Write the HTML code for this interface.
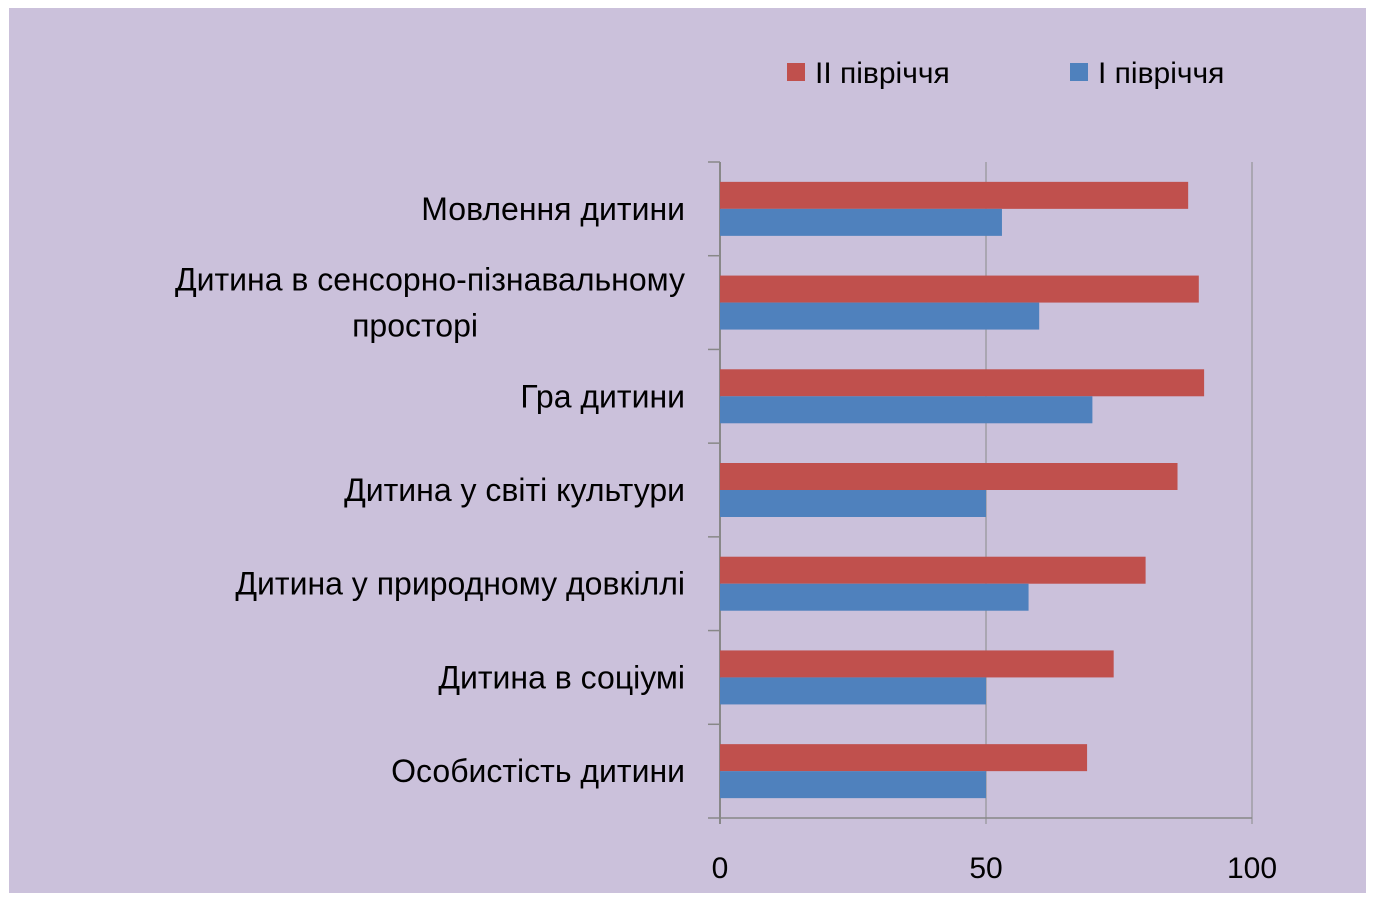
<!DOCTYPE html>
<html><head><meta charset="utf-8"><style>
body{margin:0;background:#fff;width:1375px;height:902px;overflow:hidden}
svg{display:block;font-family:"Liberation Sans","DejaVu Sans",sans-serif}
</style></head><body>
<svg id="chart" width="1375" height="902">
<rect x="9" y="8" width="1357" height="885" fill="#CBC1DB"/>
<g id="grid"></g><g id="bars"></g><g id="axes"></g><g id="labels"></g>
<g>
<rect x="787" y="63" width="18" height="18" fill="#C0504D"/>
<text x="815" y="83" font-size="30" fill="#000">ІІ півріччя</text>
<rect x="1070" y="63" width="18" height="18" fill="#4F81BD"/>
<text x="1098" y="83" font-size="30" fill="#000">І півріччя</text>
</g>
</svg>
<script>
const categories=["Мовлення дитини",["Дитина в сенсорно-пізнавальному","просторі"],"Гра дитини","Дитина у світі культури","Дитина у природному довкіллі","Дитина в соціумі","Особистість дитини"];
const seriesII=[88,90,91,86,80,74,69];
const seriesI=[53,60,70,50,58,50,50];
const ticks=[0,50,100];
const NS="http://www.w3.org/2000/svg";
const x0=720,x1=1252,y0=162,y1=818,max=100;
const xs=v=>x0+(x1-x0)*v/max;
const band=(y1-y0)/categories.length;
function mk(tag,attrs,parent){const e=document.createElementNS(NS,tag);for(const k in attrs)e.setAttribute(k,attrs[k]);document.getElementById(parent).appendChild(e);return e;}
ticks.forEach(t=>{
 const g=mk('line',{x1:xs(t),x2:xs(t),y1:y0,y2:y1+6,stroke:t===0?'#888':'#8a8a8a','stroke-width':t===0?2:1},'grid');
 
 
 const tx=mk('text',{x:xs(t),y:878,'font-size':30,'text-anchor':'middle',fill:'#000'},'labels');
 tx.textContent=t;
 
 
});
const ax=mk('line',{x1:x0,x2:x1,y1:y1,y2:y1,stroke:'#888','stroke-width':1.5},'axes');


for(let i=0;i<=categories.length;i++){
 const t=mk('line',{x1:708,x2:x0,y1:y0+band*i,y2:y0+band*i,stroke:'#888','stroke-width':1.5},'axes');
 
 
}
categories.forEach((c,i)=>{
 const top=y0+band*i, mid=top+band/2;
 const r=mk('rect',{x:x0,y:mid-27,width:xs(seriesII[i])-x0,height:27,fill:'#C0504D'},'bars');
 
 
 const b=mk('rect',{x:x0,y:mid,width:xs(seriesI[i])-x0,height:27,fill:'#4F81BD'},'bars');
 
 
 const lines=Array.isArray(c)?c:[c];
 lines.forEach((l,j)=>{
  const tx=mk('text',{x:j===0?685:478,y:mid+11+(j-(lines.length-1)/2)*46,'font-size':32,'text-anchor':'end',fill:'#000'},'labels');
  tx.textContent=l;
  
  
 });
});
</script>
</body></html>
